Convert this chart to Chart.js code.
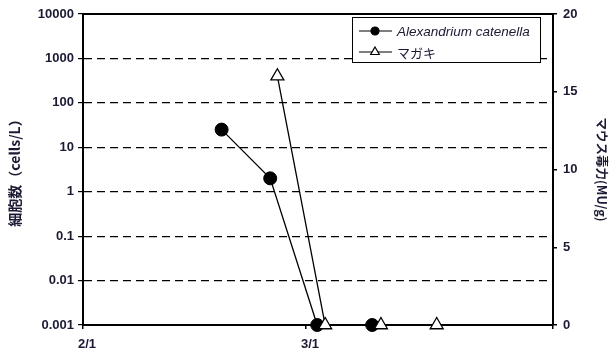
<!DOCTYPE html>
<html>
<head>
<meta charset="utf-8">
<script src="https://cdn.jsdelivr.net/npm/chart.js@4.4.0/dist/chart.umd.min.js"></script>
<style>
  html, body { margin: 0; padding: 0; background: #fff; }
  #wrap { width: 611px; height: 358px; }
</style>
</head>
<body>
<div id="wrap"><canvas id="c" width="611" height="358"></canvas></div>
<script>
// days counted from 2/1
const cellDays = [17.4, 23.5, 29.4, 36.3];
const cellValues = [25, 2, 0.001, 0.001];
const toxDays = [24.4, 30.4, 37.4, 44.4];
const toxValues = [16, 0, 0, 0];

const xTickDays = [0, 28, 59];
const xTickLabels = ['2/1', '3/1', ''];
const yTicks = [0.001, 0.01, 0.1, 1, 10, 100, 1000, 10000];
const y2Ticks = [0, 5, 10, 15, 20];

const seriesNames = ['Alexandrium catenella', 'マガキ'];

const ink = '#1a1a33';
const font = 'Arial, "Liberation Sans", sans-serif';
const cjk = '"Noto Sans CJK JP", sans-serif';

const frameAndLegend = {
  id: 'frameAndLegend',
  afterDraw(chart) {
    const { ctx, chartArea } = chart;
    ctx.save();
    // top edge of the frame
    ctx.strokeStyle = '#000';
    ctx.lineWidth = 2;
    ctx.beginPath();
    ctx.moveTo(chartArea.left - 1, chartArea.top);
    ctx.lineTo(chartArea.right + 1, chartArea.top);
    ctx.stroke();

    // legend box
    const bx = 352, by = 17, bw = 188, bh = 45;
    ctx.fillStyle = '#fff';
    ctx.fillRect(bx, by, bw, bh);
    ctx.lineWidth = 1;
    ctx.strokeRect(bx + 0.5, by + 0.5, bw, bh);

    const rows = [
      { y: by + 14, ds: chart.data.datasets[0], f: 'italic 13.5px ' + font },
      { y: by + 35, ds: chart.data.datasets[1], f: '13px ' + cjk }
    ];
    rows.forEach(r => {
      ctx.strokeStyle = '#000';
      ctx.lineWidth = 1.2;
      ctx.beginPath();
      ctx.moveTo(bx + 7, r.y);
      ctx.lineTo(bx + 40, r.y);
      ctx.stroke();
      ctx.fillStyle = r.ds.pointBackgroundColor;
      ctx.strokeStyle = '#000';
      ctx.lineWidth = 1.2;
      Chart.helpers.drawPoint(ctx, {
        pointStyle: r.ds.pointStyle,
        radius: r.ds.pointStyle === 'circle' ? 4 : 5,
        borderWidth: 1.2
      }, bx + 23, r.y);
      ctx.fillStyle = ink;
      ctx.font = r.f;
      ctx.textBaseline = 'middle';
      ctx.textAlign = 'left';
      ctx.fillText(r.ds.label, bx + 45, r.y + 1);
    });
    ctx.restore();
  }
};

new Chart(document.getElementById('c'), {
  type: 'scatter',
  data: {
    datasets: [
      {
        label: seriesNames[0],
        data: cellDays.map((d, i) => ({ x: d, y: cellValues[i] })),
        yAxisID: 'y',
        showLine: true,
        borderColor: '#000',
        borderWidth: 1.3,
        pointStyle: 'circle',
        pointRadius: 6.5,
        pointBackgroundColor: '#000',
        pointBorderColor: '#000',
        pointBorderWidth: 1,
        clip: false,
        order: 2
      },
      {
        label: seriesNames[1],
        data: toxDays.map((d, i) => ({ x: d, y: toxValues[i] })),
        yAxisID: 'y2',
        showLine: true,
        borderColor: '#000',
        borderWidth: 1.3,
        pointStyle: 'triangle',
        pointRadius: 7.5,
        pointBackgroundColor: '#fff',
        pointBorderColor: '#000',
        pointBorderWidth: 1.3,
        clip: false,
        order: 1
      }
    ]
  },
  options: {
    responsive: false,
    animation: false,
    layout: { padding: { top: 14, left: 0, right: 0, bottom: 0 } },
    plugins: { legend: { display: false }, tooltip: { enabled: false } },
    scales: {
      x: {
        type: 'linear',
        min: 0,
        max: 59,
        afterBuildTicks: s => { s.ticks = xTickDays.map(v => ({ value: v })); },
        afterFit: s => { s.height = 33; },
        ticks: {
          callback: (v, i) => xTickLabels[i],
          color: ink,
          font: { size: 13, weight: 'bold', family: font },
          padding: 8,
          labelOffset: 4,
          maxRotation: 0,
          autoSkip: false
        },
        grid: { drawOnChartArea: false, tickLength: 4, color: '#000', lineWidth: 1.5 },
        border: { color: '#000', width: 2 }
      },
      y: {
        type: 'logarithmic',
        position: 'left',
        min: 0.001,
        max: 10000,
        afterBuildTicks: s => { s.ticks = yTicks.map(v => ({ value: v })); },
        afterFit: s => { s.width = 83; },
        ticks: {
          callback: v => String(v),
          color: ink,
          font: { size: 13, weight: 'bold', family: font },
          padding: 4,
          autoSkip: false
        },
        grid: {
          color: c => (c.tick && (c.tick.value === 0.001 || c.tick.value === 10000)) ? 'rgba(0,0,0,0)' : '#000',
          tickColor: '#000',
          lineWidth: 1.2,
          tickLength: 5
        },
        border: { color: '#000', width: 2, dash: [8, 5] },
        title: {
          display: true,
          text: '細胞数（cells/L）',
          color: ink,
          font: { size: 14, weight: 'bold', family: cjk },
          padding: { top: 6, bottom: 0 }
        }
      },
      y2: {
        type: 'linear',
        position: 'right',
        min: 0,
        max: 20,
        afterBuildTicks: s => { s.ticks = y2Ticks.map(v => ({ value: v })); },
        afterFit: s => { s.width = 58; },
        ticks: {
          color: ink,
          font: { size: 13, weight: 'bold', family: font },
          padding: 6,
          autoSkip: false
        },
        grid: { drawOnChartArea: false, tickLength: 4, color: '#000', lineWidth: 1.5 },
        border: { color: '#000', width: 2 },
        title: {
          display: true,
          text: 'マウス毒力(MU/g)',
          color: ink,
          font: { size: 12.5, weight: 'bold', family: cjk },
          padding: { top: 2, bottom: 0 }
        }
      }
    }
  },
  plugins: [frameAndLegend]
});
</script>
</body>
</html>
